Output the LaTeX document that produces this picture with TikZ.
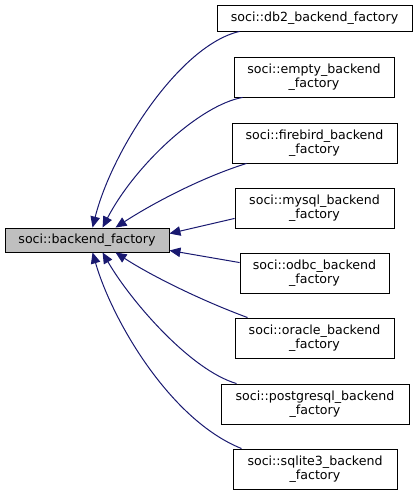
\documentclass[tikz,border=0pt]{standalone}
\usepackage{fontspec}
\setmainfont{DejaVu Sans}
\usetikzlibrary{arrows.meta,calc}
\definecolor{edgeblue}{HTML}{191970}
\definecolor{maingray}{HTML}{BFBFBF}
\tikzset{
  cls/.style={draw=black, line width=0.9pt, fill=white, inner sep=0pt, align=center,
    font=\fontsize{12.6}{13.5}\selectfont},
  mainbox/.style={cls, fill=maingray},
  edge/.style={draw=edgeblue, line width=1pt, -{Triangle[length=11pt,width=9.5pt,fill=edgeblue]}}
}
\begin{document}
\begin{tikzpicture}[x=1pt,y=-1pt]
\useasboundingbox (0,0) rectangle (417,495);
\node[mainbox, minimum width=164pt, minimum height=24pt] (main) at (87,240) {soci::backend\_factory};
\node[cls, minimum width=195pt, minimum height=26pt] (db2) at (314.5,18) {soci::db2\_backend\_factory};
\node[cls, minimum width=160pt, minimum height=40pt] (empty) at (314,77) {soci::empty\_backend\\\_factory};
\node[cls, minimum width=165pt, minimum height=40pt] (firebird) at (314.5,143) {soci::firebird\_backend\\\_factory};
\node[cls, minimum width=159pt, minimum height=40pt] (mysql) at (314.5,208) {soci::mysql\_backend\\\_factory};
\node[cls, minimum width=149pt, minimum height=40pt] (odbc) at (314.5,273) {soci::odbc\_backend\\\_factory};
\node[cls, minimum width=159pt, minimum height=40pt] (oracle) at (314.5,338) {soci::oracle\_backend\\\_factory};
\node[cls, minimum width=188pt, minimum height=40pt] (pg) at (315,404) {soci::postgresql\_backend\\\_factory};
\node[cls, minimum width=164pt, minimum height=40pt] (sqlite) at (315,469) {soci::sqlite3\_backend\\\_factory};

\coordinate (tA) at ($(main.north west)+(88,0)$);
\coordinate (tB) at ($(main.north west)+(98,0)$);
\coordinate (tC) at ($(main.north west)+(111,0)$);
\coordinate (bA) at ($(main.south west)+(88,0)$);
\coordinate (bB) at ($(main.south west)+(98,0)$);
\coordinate (bC) at ($(main.south west)+(111,0)$);
\coordinate (rA) at ($(main.north east)+(0,6)$);
\coordinate (rB) at ($(main.south east)+(0,-2)$);

\draw[edge] ($(db2.south west)+(23,0)$) .. controls (180,45) and (112,150) .. (tA);
\draw[edge] ($(empty.south west)+(9,0)$) .. controls (200,105) and (135,165) .. (tB);
\draw[edge] ($(firebird.south west)+(15,0)$) .. controls (200,178) and (150,205) .. (tC);
\draw[edge] ($(mysql.south west)+(0,-10)$) -- (rA);
\draw[edge] ($(odbc.north west)+(0,10)$) -- (rB);
\draw[edge] ($(oracle.north west)+(13,0)$) .. controls (200,300) and (150,275) .. (bC);
\draw[edge] ($(pg.north west)+(16,0)$) .. controls (190,370) and (130,300) .. (bB);
\draw[edge] ($(sqlite.north west)+(9,0)$) .. controls (170,420) and (112,320) .. (bA);
\end{tikzpicture}
\end{document}
